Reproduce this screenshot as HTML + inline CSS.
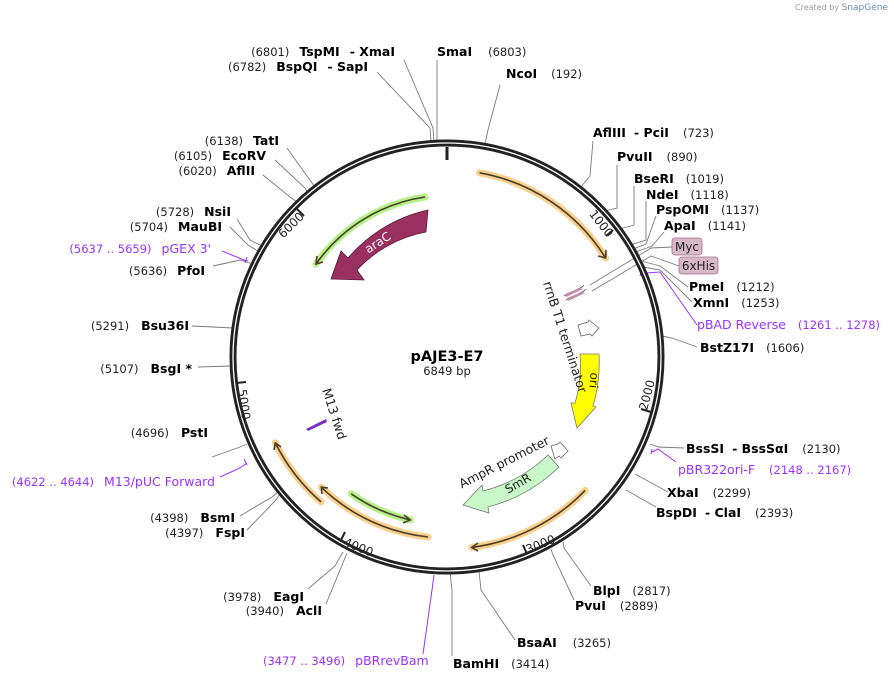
<!DOCTYPE html>
<html><head><meta charset="utf-8"><style>
html,body{margin:0;padding:0;background:#fff;}
svg{display:block;font-family:"DejaVu Sans","Liberation Sans",sans-serif;}
.n{font-size:11.5px;fill:#222;}
.b{font-size:12.5px;font-weight:bold;fill:#000;}
.p{font-size:12.5px;fill:#9b30ff;}
.l{stroke:#7a7a7a;stroke-width:0.9;fill:none;}
.pl{stroke:#9b30ff;stroke-width:1;fill:none;}
.oh{stroke:#f8c878;stroke-width:7;fill:none;opacity:.85;stroke-linecap:round;}
.od{stroke:#4a3e2a;stroke-width:1.6;fill:none;}
.gh{stroke:#b6f28a;stroke-width:7;fill:none;stroke-linecap:round;}
</style></head><body>
<svg width="894" height="683" viewBox="0 0 894 683" xmlns="http://www.w3.org/2000/svg">
<text x="888" y="10" text-anchor="end" style="font-size:8px;fill:#999">Created by <tspan style="fill:#6a8bb8;font-size:9px">SnapGene</tspan></text>

<polyline class="l" points="437,60 437,141"/>
<polyline class="l" points="404,60 433,128 434,141"/>
<polyline class="l" points="377,72 430,128 431,141"/>
<polyline class="l" points="500,85 488,130 485,144"/>
<polyline class="l" points="593,141 590,176 580,188"/>
<polyline class="l" points="617,165 617,208 605,211"/>
<polyline class="l" points="634,186 634,225 620,229"/>
<polyline class="l" points="646,201 646,240 630,245"/>
<polyline class="l" points="656,216 646,244 633,249"/>
<polyline class="l" points="664,232 652,246 636,252"/>
<polyline class="l" points="672,247 651,248 590,285"/>
<polyline class="l" points="679,266 651,256 592,291"/>
<polyline class="l" points="688,287 660,266 641,261"/>
<polyline class="l" points="692,302 660,270 643,267"/>
<polyline class="pl" points="697,325 660,272 646,273"/>
<path class="pl" d="M640,276 l1,-3"/>
<polyline class="l" points="697,347 672,338 662,336"/>
<polyline class="l" points="684,448 658,447 650,444"/>
<polyline class="pl" points="676,462 658,449 652,452"/>
<path class="pl" d="M652,449 l-1,5"/>
<polyline class="l" points="668,492 635,474"/>
<polyline class="l" points="656,507 626,490"/>
<polyline class="l" points="591,586 564,548 563,542"/>
<polyline class="l" points="574,600 553,555 551,549"/>
<polyline class="l" points="515,640 481,590 479,571"/>
<polyline class="l" points="452,656 452,590 450,572"/>
<polyline class="pl" points="423,654 432,590 434,575"/>
<path class="pl" d="M432,571 h5"/>
<polyline class="l" points="326,604 340,570 347,553"/>
<polyline class="l" points="308,589 335,566 343,552"/>
<polyline class="l" points="247,530 276,500 280,494"/>
<polyline class="l" points="240,516 272,497 278,492"/>
<polyline class="pl" points="220,477 240,468 247,463"/>
<path class="pl" d="M244,459 l3,6"/>
<polyline class="l" points="212,457 240,447 247,444"/>
<polyline class="l" points="198,367 232,366"/>
<polyline class="l" points="192,326 233,328"/>
<polyline class="l" points="213,266 240,260 253,264"/>
<polyline class="pl" points="222,251 244,260 248,261"/>
<path class="pl" d="M247,257 l-2,6"/>
<polyline class="l" points="230,227 248,245 258,251"/>
<polyline class="l" points="237,219 250,240 262,246"/>
<polyline class="l" points="263,175 290,197 297,202"/>
<polyline class="l" points="275,160 305,188 308,193"/>
<polyline class="l" points="287,148 312,183 314,186"/>

<circle cx="447" cy="357" r="214" fill="none" stroke="#222" stroke-width="7"/>
<circle cx="447" cy="357" r="214" fill="none" stroke="#fff" stroke-width="1.3"/>
<line x1="447" y1="147" x2="447" y2="160" stroke="#222" stroke-width="3"/>

<g stroke="#222" stroke-width="2">
<line x1="613" y1="230" x2="606" y2="236"/>
<line x1="651" y1="412" x2="641" y2="409"/>
<line x1="527" y1="554" x2="523" y2="545"/>
<line x1="341" y1="540" x2="345" y2="532"/>
<line x1="236" y1="383" x2="246" y2="382"/>
<line x1="297" y1="209" x2="304" y2="216"/>
</g>
<g style="font-size:12px;fill:#222" text-anchor="middle">
<text transform="translate(598,226) rotate(52)">1000</text>
<text transform="translate(651,396) rotate(-75)">2000</text>
<text transform="translate(542,548) rotate(-22)">3000</text>
<text transform="translate(357,551) rotate(22)">4000</text>
<text transform="translate(240,405) rotate(82)">5000</text>
<text transform="translate(294,228) rotate(-45)">6000</text>
</g>

<path class="oh" d="M479.5,172.8 A187,187 0 0 1 605.6,257.9"/>
<path class="od" d="M479.5,172.8 A187,187 0 0 1 605.6,257.9"/>
<path class="od" d="M598,256 L605.6,257.9 L606,250"/>
<path class="oh" d="M585.1,490.4 A192,192 0 0 1 471.7,547.4"/>
<path class="od" d="M585.1,490.4 A192,192 0 0 1 471.7,547.4"/>
<path class="od" d="M478,543 L471.7,547.4 L478,551"/>
<path class="oh" d="M428.1,537 A181,181 0 0 1 321.3,487.2"/>
<path class="od" d="M428.1,537 A181,181 0 0 1 321.3,487.2"/>
<path class="od" d="M322,494 L321.3,487.2 L328,488"/>
<path class="gh" d="M351.2,493.8 A167,167 0 0 0 410.3,519.9"/>
<path class="od" d="M351.2,493.8 A167,167 0 0 0 410.3,519.9"/>
<path class="od" d="M404,515 L410.3,519.9 L403,523"/>
<path class="oh" d="M321,501.9 A192,192 0 0 1 275.3,442.9"/>
<path class="od" d="M321,501.9 A192,192 0 0 1 275.3,442.9"/>
<path class="od" d="M274,450 L275.3,442.9 L281,447"/>
<path class="gh" d="M425,197 A162,162 0 0 0 316,264"/>
<path class="od" d="M425,197 A162,162 0 0 0 316,264"/>
<path class="od" d="M317,256 L316,264 L323,262"/>

<path d="M428,210 L426,232 A125,125 0 0 0 357,270 L364,280 L331,279 L341,251 L348,258 A146,146 0 0 1 428,210 Z" fill="#993060" stroke="#5a1a3a" stroke-width="0.8"/>
<text transform="translate(380,246) rotate(-33)" text-anchor="middle" style="font-size:12px;fill:#fff">araC</text>

<path d="M580,354 L599,354 A152,152 0 0 1 593,406 L596,407 L577,428 L571,403 L575,403 A134,134 0 0 0 580,354 Z" fill="#ffff00" stroke="#777" stroke-width="0.8"/>
<text transform="translate(590,380) rotate(95)" text-anchor="middle" style="font-size:12px;fill:#222">ori</text>

<path d="M548,455 L559,467 A160,160 0 0 1 488,507 L489,513 L463,505 L482,485 L483,491 A145,145 0 0 0 548,455 Z" fill="#c8f7c8" stroke="#777" stroke-width="0.8"/>
<text transform="translate(520,487) rotate(-30)" text-anchor="middle" style="font-size:12px;fill:#222">SmR</text>

<path d="M551,446 L558,444 L560,442 L568,451 L561,458 L559,456 L555,459 Z" fill="#fff" stroke="#666" stroke-width="0.8"/>
<text transform="translate(506,466) rotate(-27)" text-anchor="middle" style="font-size:12.5px;fill:#222">AmpR promoter</text>

<path d="M578,325 L588,322 L589,320 L599,328 L592,336 L590,334 L581,336 Z" fill="#fff" stroke="#666" stroke-width="0.8"/>
<path d="M564,296 L582,287 L584,285 M566,300 L584,291 L586,289" stroke="#555" stroke-width="0.8" fill="none"/>
<path d="M565,294 L580,288 L583,289 L566,297 Z M567,298 L582,292 L585,293 L568,301 Z" fill="#c08aa8"/>
<text transform="translate(543,283) rotate(72)" style="font-size:12.5px;fill:#222">rrnB T1 terminator</text>

<path d="M306,429 L326,419 L327,422 L308,431 Z" fill="#7a2cc8"/>
<text transform="translate(322,390) rotate(72)" style="font-size:12.5px;fill:#222">M13 fwd</text>

<text x="447" y="361" text-anchor="middle" style="font-size:14.5px;font-weight:bold;fill:#000">pAJE3-E7</text>
<text x="447" y="375" text-anchor="middle" style="font-size:11.5px;fill:#222">6849 bp</text>

<rect x="672" y="238" width="30" height="17" rx="3" fill="#d9b8c6" stroke="#a07088" stroke-width="0.8"/>
<text x="687" y="251" text-anchor="middle" style="font-size:12px;fill:#222">Myc</text>
<rect x="679" y="257" width="39" height="17" rx="3" fill="#d9b8c6" stroke="#a07088" stroke-width="0.8"/>
<text x="698.5" y="270" text-anchor="middle" style="font-size:12px;fill:#222">6xHis</text>

<text x="437" y="56"><tspan class="b">SmaI</tspan><tspan class="n" dx="16">(6803)</tspan></text>
<text x="506" y="78"><tspan class="b">NcoI</tspan><tspan class="n" dx="14">(192)</tspan></text>
<text x="593" y="137"><tspan class="b">AflIII</tspan><tspan class="b" dx="8">- PciI</tspan><tspan class="n" dx="14">(723)</tspan></text>
<text x="617" y="161"><tspan class="b">PvuII</tspan><tspan class="n" dx="14">(890)</tspan></text>
<text x="634" y="183"><tspan class="b">BseRI</tspan><tspan class="n" dx="12">(1019)</tspan></text>
<text x="646" y="199"><tspan class="b">NdeI</tspan><tspan class="n" dx="12">(1118)</tspan></text>
<text x="656" y="214"><tspan class="b">PspOMI</tspan><tspan class="n" dx="12">(1137)</tspan></text>
<text x="664" y="230"><tspan class="b">ApaI</tspan><tspan class="n" dx="12">(1141)</tspan></text>
<text x="689" y="291"><tspan class="b">PmeI</tspan><tspan class="n" dx="12">(1212)</tspan></text>
<text x="693" y="307"><tspan class="b">XmnI</tspan><tspan class="n" dx="12">(1253)</tspan></text>
<text x="697" y="329" class="p">pBAD Reverse<tspan dx="12" style="font-size:11.5px">(1261 .. 1278)</tspan></text>
<text x="700" y="352"><tspan class="b">BstZ17I</tspan><tspan class="n" dx="12">(1606)</tspan></text>
<text x="686" y="453"><tspan class="b">BssSI</tspan><tspan class="b" dx="8">- BssSαI</tspan><tspan class="n" dx="14">(2130)</tspan></text>
<text x="678" y="474" class="p">pBR322ori-F<tspan dx="14" style="font-size:11.5px">(2148 .. 2167)</tspan></text>
<text x="667" y="497"><tspan class="b">XbaI</tspan><tspan class="n" dx="14">(2299)</tspan></text>
<text x="656" y="517"><tspan class="b">BspDI</tspan><tspan class="b" dx="8">- ClaI</tspan><tspan class="n" dx="14">(2393)</tspan></text>
<text x="593" y="595"><tspan class="b">BlpI</tspan><tspan class="n" dx="12">(2817)</tspan></text>
<text x="575" y="610"><tspan class="b">PvuI</tspan><tspan class="n" dx="14">(2889)</tspan></text>
<text x="517" y="647"><tspan class="b">BsaAI</tspan><tspan class="n" dx="16">(3265)</tspan></text>
<text x="453" y="668"><tspan class="b">BamHI</tspan><tspan class="n" dx="12">(3414)</tspan></text>

<text x="395" y="56" text-anchor="end"><tspan class="n">(6801)</tspan><tspan class="b" dx="10">TspMI</tspan><tspan class="b" dx="10">- XmaI</tspan></text>
<text x="368" y="71" text-anchor="end"><tspan class="n">(6782)</tspan><tspan class="b" dx="10">BspQI</tspan><tspan class="b" dx="10">- SapI</tspan></text>
<text x="279" y="145" text-anchor="end"><tspan class="n">(6138)</tspan><tspan class="b" dx="10">TatI</tspan></text>
<text x="266" y="160" text-anchor="end"><tspan class="n">(6105)</tspan><tspan class="b" dx="10">EcoRV</tspan></text>
<text x="255" y="175" text-anchor="end"><tspan class="n">(6020)</tspan><tspan class="b" dx="10">AflII</tspan></text>
<text x="231" y="216" text-anchor="end"><tspan class="n">(5728)</tspan><tspan class="b" dx="10">NsiI</tspan></text>
<text x="222" y="231" text-anchor="end"><tspan class="n">(5704)</tspan><tspan class="b" dx="10">MauBI</tspan></text>
<text x="211" y="253" text-anchor="end" class="p"><tspan style="font-size:11.5px">(5637 .. 5659)</tspan><tspan dx="10">pGEX 3'</tspan></text>
<text x="205" y="275" text-anchor="end"><tspan class="n">(5636)</tspan><tspan class="b" dx="10">PfoI</tspan></text>
<text x="189" y="330" text-anchor="end"><tspan class="n">(5291)</tspan><tspan class="b" dx="12">Bsu36I</tspan></text>
<text x="192" y="373" text-anchor="end"><tspan class="n">(5107)</tspan><tspan class="b" dx="12">BsgI *</tspan></text>
<text x="208" y="437" text-anchor="end"><tspan class="n">(4696)</tspan><tspan class="b" dx="12">PstI</tspan></text>
<text x="215" y="486" text-anchor="end" class="p"><tspan style="font-size:11.5px">(4622 .. 4644)</tspan><tspan dx="10">M13/pUC Forward</tspan></text>
<text x="235" y="522" text-anchor="end"><tspan class="n">(4398)</tspan><tspan class="b" dx="12">BsmI</tspan></text>
<text x="245" y="537" text-anchor="end"><tspan class="n">(4397)</tspan><tspan class="b" dx="12">FspI</tspan></text>
<text x="304" y="601" text-anchor="end"><tspan class="n">(3978)</tspan><tspan class="b" dx="12">EagI</tspan></text>
<text x="322" y="615" text-anchor="end"><tspan class="n">(3940)</tspan><tspan class="b" dx="12">AclI</tspan></text>
<text x="263" y="665" class="p"><tspan style="font-size:11.5px">(3477 .. 3496)</tspan><tspan dx="10">pBRrevBam</tspan></text>
</svg>
</body></html>
